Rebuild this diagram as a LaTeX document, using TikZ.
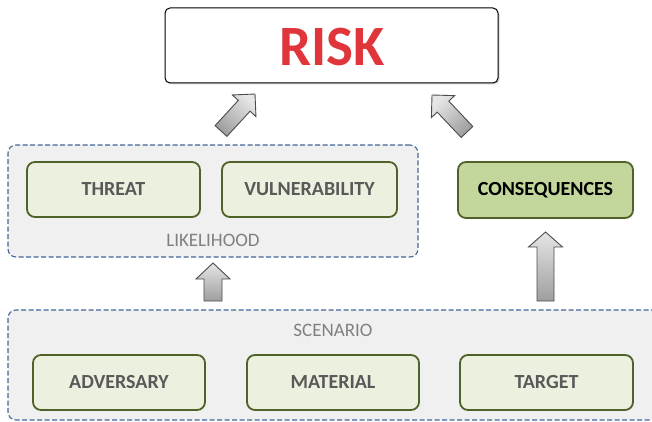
\documentclass[tikz,border=0pt]{standalone}
\usepackage{fontspec}
\setmainfont{Carlito}
\usetikzlibrary{calc,shadows}
\definecolor{grpborder}{HTML}{41659A}
\definecolor{grpfill}{HTML}{F0F0F0}
\definecolor{boxfill}{HTML}{EBF1DE}
\definecolor{boxborder}{HTML}{4F6228}
\definecolor{consfill}{HTML}{C3D69B}
\definecolor{labeltext}{HTML}{595959}
\definecolor{grouptext}{HTML}{808080}
\definecolor{riskred}{HTML}{E0353A}
\tikzset{
  grp/.style={draw=grpborder, fill=grpfill, line width=1.1pt, dash pattern=on 5pt off 2.5pt, rounded corners=8pt},
  item/.style={draw=boxborder, fill=boxfill, line width=1.8pt, rounded corners=8pt,
    minimum height=55pt, text=labeltext, font=\fontsize{20}{22}\selectfont\bfseries, inner sep=0pt},
  grplabel/.style={text=grouptext, font=\fontsize{19}{21}\selectfont, inner sep=0pt},
  barrow/.style={draw=black!70, line width=0.9pt, line join=miter},
}
\newcommand\blockarrow[6]{% tail, tip, shaft half, head half, head length, shading angle
  \coordinate (ba-n) at ($(#2)!#5!(#1)$);
  \draw[barrow, top color=black!10, bottom color=black!38, shading angle=#6]
    ($(#1)!#3!90:(#2)$) -- ($(ba-n)!#3!-90:(#1)$) -- ($(ba-n)!#4!-90:(#1)$) -- (#2)
    -- ($(ba-n)!#4!90:(#1)$) -- ($(ba-n)!#3!90:(#1)$) -- ($(#1)!#3!-90:(#2)$) -- cycle;
}
\begin{document}
\begin{tikzpicture}[x=1pt,y=-1pt]
\useasboundingbox (0,0) rectangle (652,422);
% RISK
\node[draw=black, fill=white, line width=1pt, rounded corners=5pt, minimum width=333pt, minimum height=75pt,
  drop shadow={shadow xshift=1.5pt, shadow yshift=-1.5pt, opacity=0.35}]
  (risk) at (331.5,45.5) {};
\node[text=riskred, font=\fontsize{57}{60}\selectfont\bfseries, inner sep=0pt] (risktext) at (332,47) {RISK};
% Likelihood group
\node[grp, minimum width=410pt, minimum height=112pt] (likelihood) at (213,201) {};
\node[grplabel] (liklabel) at (213,240) {LIKELIHOOD};
\node[item, minimum width=173pt] (threat) at (113.5,189.5) {THREAT};
\node[item, minimum width=175pt] (vuln) at (309.5,189.5) {VULNERABILITY};
% Consequences
\node[item, minimum width=175pt, minimum height=56pt, fill=consfill, text=black] (cons) at (545.5,190) {CONSEQUENCES};
% Scenario group
\node[grp, minimum width=656pt, minimum height=110pt] (scenario) at (336,365) {};
\node[grplabel] (scnlabel) at (333,330) {SCENARIO};
\node[item, minimum width=172pt] (adv) at (119,382.5) {ADVERSARY};
\node[item, minimum width=172pt] (mat) at (333,382.5) {MATERIAL};
\node[item, minimum width=173pt] (tgt) at (546.5,382.5) {TARGET};
% arrows
\coordinate (a1t) at (221,131); \coordinate (a1h) at (255,94);
\coordinate (a2t) at (467,132); \coordinate (a2h) at (432,95);
\coordinate (a3t) at (213,301); \coordinate (a3h) at (213,263);
\coordinate (a4t) at (545.5,301); \coordinate (a4h) at (545.5,232);
\blockarrow{a1t}{a1h}{8pt}{16pt}{16pt}{-45}
\blockarrow{a2t}{a2h}{8pt}{16pt}{16pt}{45}
\blockarrow{a3t}{a3h}{9pt}{17pt}{16pt}{0}
\blockarrow{a4t}{a4h}{8.5pt}{17pt}{15pt}{0}
\end{tikzpicture}
\end{document}
